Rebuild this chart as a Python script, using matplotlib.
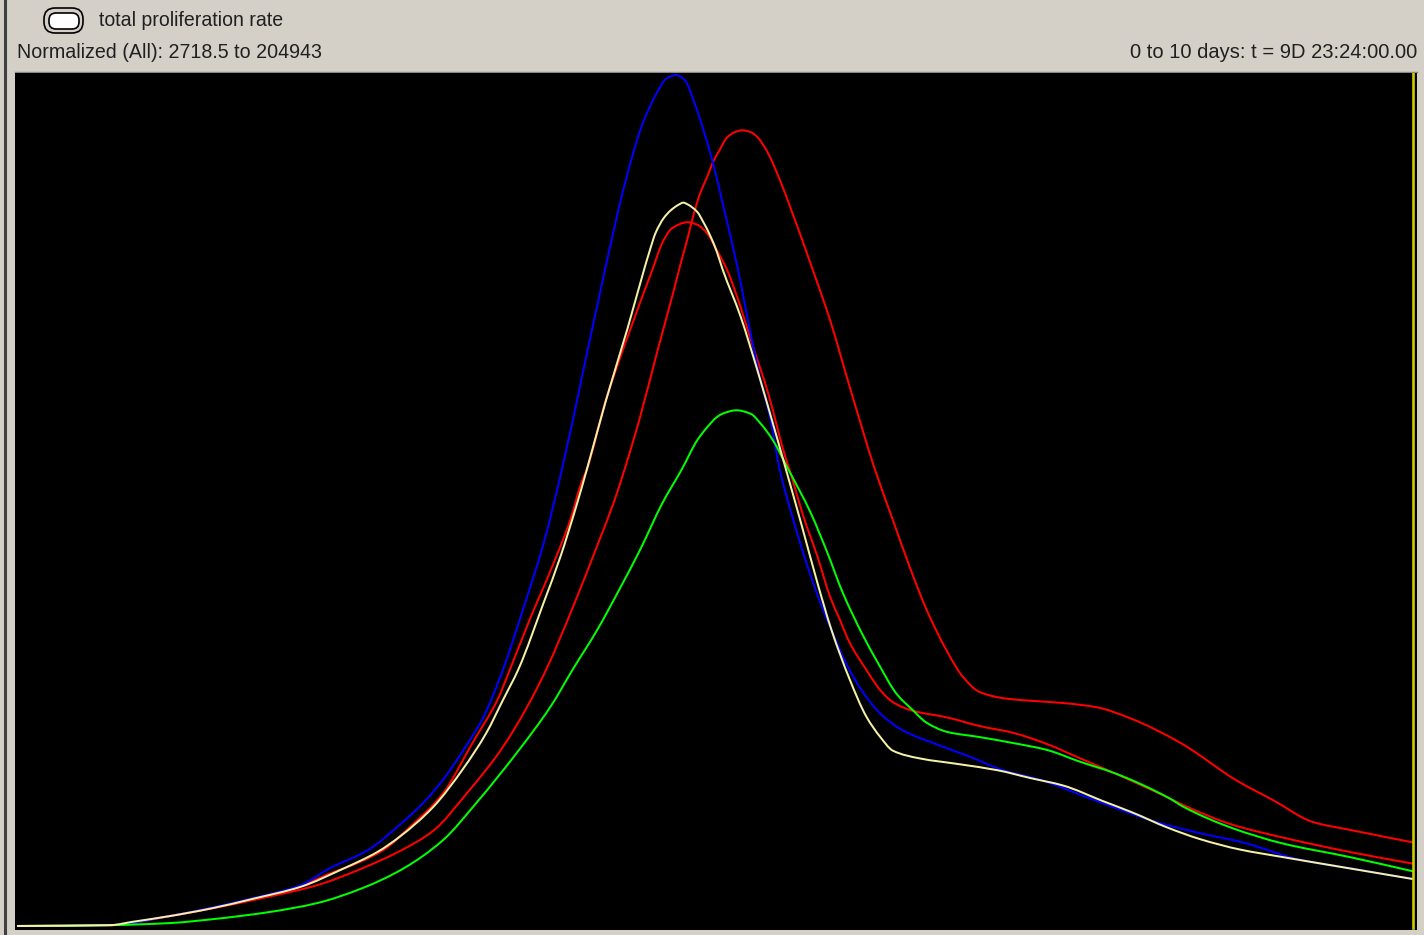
import numpy as np
import matplotlib
matplotlib.use("Agg")
import matplotlib.pyplot as plt
from matplotlib.patches import FancyBboxPatch, PathPatch
from matplotlib.path import Path

# Values: days, and percent of the normalized range
blue_days = [0, .67, 1.10, 1.67, 2.03, 2.24, 2.51, 2.74, 2.91, 3.05, 3.22, 3.34, 3.48, 3.62, 3.77, 3.90, 4.04, 4.21,
             4.34, 4.47, 4.58, 4.65, 4.72, 4.78, 4.85, 4.92, 4.98, 5.05, 5.16, 5.26, 5.33, 5.39, 5.46, 5.55, 5.65,
             5.75, 5.84, 5.93, 6.08, 6.19, 6.34, 6.59, 6.82, 7.06, 7.32, 7.68, 8.16, 8.47, 8.78, 9.18, 9.61, 10]
blue_rate = [0, .1, 1.2, 3.2, 4.8, 6.8, 8.9, 11.9, 14.5, 17.2, 21.3, 24.6, 30.2, 37.1, 45.0, 53.6, 64.2, 77.2,
             86.5, 93.9, 97.9, 99.6, 100, 99.4, 96.7, 93.2, 89.8, 85.0, 77.2, 68.9, 63.6, 59.8, 53.6, 48.1, 42.7,
             38.0, 34.4, 31.0, 26.9, 24.8, 23.0, 21.3, 19.9, 18.3, 17.2, 15.0, 12.2, 10.9, 9.8, 7.8, 6.6, 5.5]

cream_days = [0, .67, .83, 1.07, 1.40, 1.69, 2.03, 2.33, 2.58, 2.74, 2.98, 3.19, 3.36, 3.48, 3.59, 3.77, 3.89, 4.01,
              4.08, 4.22, 4.37, 4.49, 4.53, 4.57, 4.63, 4.68, 4.73, 4.77, 4.80, 4.87, 4.91, 4.96, 5.01, 5.05, 5.18,
              5.30, 5.41, 5.50, 5.62, 5.73, 5.83, 5.96, 6.08, 6.18, 6.27, 6.46, 6.75, 7.02, 7.25, 7.49, 7.77, 7.99,
              8.23, 8.47, 8.75, 9.06, 9.42, 10]
cream_rate = [0, .1, .5, 1.1, 2.1, 3.2, 4.6, 6.7, 8.7, 10.5, 14.0, 18.4, 22.7, 26.6, 30.2, 38.0, 43.4, 49.7,
              53.7, 62.0, 70.2, 77.2, 79.4, 81.4, 83.2, 84.1, 84.7, 85.0, 84.8, 83.9, 82.8, 81.2, 79.2, 77.2, 71.6,
              65.3, 59.1, 53.9, 46.9, 40.3, 34.8, 29.0, 24.6, 22.2, 20.6, 19.7, 19.0, 18.3, 17.4, 16.5, 14.7, 13.3,
              11.6, 10.2, 9.0, 8.1, 7.1, 5.5]

red1_days = [0, .67, 1.07, 1.40, 1.69, 2.03, 2.26, 2.33, 2.62, 2.81, 3.05, 3.26, 3.44, 3.53, 3.67, 3.82, 3.96, 4.04,
             4.08, 4.21, 4.37, 4.55, 4.62, 4.69, 4.80, 4.87, 4.94, 5.01, 5.08, 5.18, 5.26, 5.37, 5.50, 5.53, 5.63,
             5.73, 5.82, 5.89, 5.96, 6.08, 6.18, 6.27, 6.41, 6.66, 6.89, 7.13, 7.37, 7.61, 7.85, 8.25, 8.35, 8.70,
             9.06, 9.54, 10]
red1_rate = [0, .1, 1.1, 2.1, 3.1, 4.7, 6.3, 6.7, 8.9, 11.6, 15.6, 21.5, 26.6, 30.2, 36.0, 41.8, 47.7, 52.1,
             53.7, 61.5, 69.2, 77.2, 80.3, 82.0, 82.7, 82.4, 81.4, 79.4, 77.2, 72.7, 68.5, 63.0, 55.1, 53.6, 48.1,
             43.4, 38.7, 36.0, 33.3, 30.1, 27.7, 26.3, 25.3, 24.5, 23.5, 22.7, 21.4, 19.7, 18.0, 15.0, 14.2, 11.9,
             10.4, 8.7, 7.3]

red2_days = [0, .67, 1.07, 1.40, 1.79, 2.15, 2.46, 2.74, 2.98, 3.22, 3.46, 3.65, 3.79, 3.98, 4.17, 4.27, 4.35, 4.46,
             4.58, 4.70, 4.75, 4.80, 4.84, 4.89, 4.94, 4.98, 5.03, 5.08, 5.14, 5.19, 5.25, 5.30, 5.37, 5.46, 5.55,
             5.69, 5.82, 5.96, 6.14, 6.27, 6.39, 6.51, 6.66, 6.77, 6.89, 7.09, 7.32, 7.49, 7.73, 7.97, 8.33, 8.73,
             8.99, 9.28, 9.54, 10]
red2_rate = [0, .1, 1.1, 2.1, 3.4, 4.8, 6.7, 8.8, 11.2, 15.6, 20.6, 25.7, 30.2, 37.5, 45.4, 49.7, 53.7, 59.8,
             67.3, 74.6, 77.8, 80.8, 83.4, 86.1, 88.0, 89.7, 91.2, 92.6, 93.3, 93.5, 93.3, 92.7, 91.0, 87.7, 83.8,
             77.4, 71.2, 63.4, 53.7, 47.7, 42.2, 37.2, 32.2, 29.3, 27.5, 26.7, 26.4, 26.2, 25.7, 24.4, 21.5, 17.1,
             14.8, 12.2, 11.3, 9.8]

green_days = [0, .67, 1.10, 1.40, 1.79, 2.15, 2.48, 2.76, 3.05, 3.29, 3.58, 3.82, 3.98, 4.15, 4.32, 4.46, 4.62, 4.76,
              4.87, 4.94, 5.01, 5.05, 5.15, 5.25, 5.33, 5.41, 5.52, 5.68, 5.80, 5.91, 6.06, 6.16, 6.30, 6.41, 6.51,
              6.66, 6.89, 7.13, 7.37, 7.61, 7.85, 8.25, 8.35, 8.70, 9.06, 9.54, 10]
green_rate = [0, .1, .35, .8, 1.6, 2.7, 4.5, 6.7, 10.1, 14.5, 20.4, 25.8, 30.2, 34.7, 39.8, 44.2, 49.7, 53.7,
              57.1, 58.6, 59.8, 60.2, 60.6, 60.2, 58.9, 57.1, 53.7, 48.6, 43.9, 39.2, 34.0, 31.0, 27.2, 25.4, 23.9,
              22.8, 22.2, 21.5, 20.7, 19.3, 18.0, 15.0, 14.0, 11.5, 9.7, 8.1, 6.4]

cursor_day = 9.99
legend_label = "total proliferation rate"
range_label = "Normalized (All): 2718.5 to 204943"
time_label = "0 to 10 days: t = 9D 23:24:00.00"

plt.rcParams["font.family"] = "Liberation Sans"


def smooth_line(ax, xs, ys, color, lw=1.45):
    # Bezier segments through the read points, tangents limited so nothing overshoots
    x = np.array(xs, dtype=float)
    y = np.array(ys, dtype=float)
    h = np.diff(x)
    d = np.diff(y) / h
    m = np.zeros(len(x))
    m[0], m[-1] = d[0], d[-1]
    for i in range(1, len(x) - 1):
        if d[i - 1] * d[i] > 0:
            w1 = 2 * h[i] + h[i - 1]
            w2 = h[i] + 2 * h[i - 1]
            m[i] = (w1 + w2) / (w1 / d[i - 1] + w2 / d[i])
    verts = [(x[0], y[0])]
    codes = [Path.MOVETO]
    for i in range(len(h)):
        verts += [(x[i] + h[i] / 3, y[i] + m[i] * h[i] / 3),
                  (x[i + 1] - h[i] / 3, y[i + 1] - m[i + 1] * h[i] / 3),
                  (x[i + 1], y[i + 1])]
        codes += [Path.CURVE4] * 3
    ax.add_patch(PathPatch(Path(verts, codes), fc="none", ec=color, lw=lw))


W, H = 1424, 935
fig = plt.figure(figsize=(W / 100, H / 100), dpi=100, facecolor="#d4d0c8")

# Window chrome, in pixel coordinates
bg = fig.add_axes([0, 0, 1, 1])
bg.set_xlim(0, W)
bg.set_ylim(H, 0)
bg.axis("off")
bg.plot([4.5, 4.5], [0, H], color="#404040", lw=2.2)
bg.plot([15, 1417], [72, 72], color="#8a8880", lw=1)
bg.add_patch(FancyBboxPatch((49, 13), 30, 16, boxstyle="round,pad=0,rounding_size=7",
                            fc="white", ec="black", lw=1.2))
bg.add_patch(FancyBboxPatch((44, 8), 39, 25, boxstyle="round,pad=0,rounding_size=11",
                            fc="none", ec="black", lw=1.2))
bg.text(99, 20, legend_label, fontsize=14.05, va="center", ha="left", color="#202020")
bg.text(17, 53, range_label, fontsize=14.15, va="center", ha="left", color="#202020")
bg.text(1417, 53, time_label, fontsize=14.5, va="center", ha="right", color="#202020")

# Plot area
ax = fig.add_axes([15 / W, 1 - 930 / H, 1402 / W, 857 / H], facecolor="black")
ax.set_xlim(-2 / 139.7, 1400 / 139.7)
ax.set_ylim(-4 / 8.51, 853 / 8.51)
ax.set_xticks([])
ax.set_yticks([])
for s in ax.spines.values():
    s.set_visible(False)

smooth_line(ax, red1_days, red1_rate, "#ff0000")
smooth_line(ax, red2_days, red2_rate, "#ff0000")
smooth_line(ax, blue_days, blue_rate, "#0000ff")
smooth_line(ax, green_days, green_rate, "#00ff00")
smooth_line(ax, cream_days, cream_rate, "#f4f0a8")
ax.axvline(cursor_day, ymin=2 / 857, color="#cccc00", lw=1.9)

fig.savefig("out.png", dpi=100, facecolor=fig.get_facecolor())
